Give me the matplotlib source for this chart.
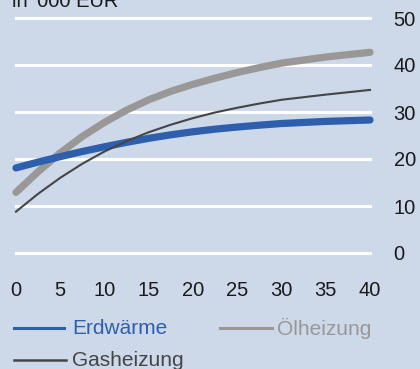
import matplotlib
matplotlib.use("Agg")
import matplotlib.pyplot as plt
from matplotlib.lines import Line2D

plt.rcParams['font.family'] = ['Liberation Sans', 'DejaVu Sans']

# values in '000 EUR
years = [0, 2.5, 5, 7.5, 10, 12.5, 15, 17.5, 20, 22.5, 25, 27.5, 30, 35, 40]
erdwaerme = [18.1, 19.35, 20.5, 21.6, 22.6, 23.55, 24.4, 25.15, 25.8, 26.35, 26.8, 27.2, 27.55, 28.0, 28.3]
oelheizung = [12.9, 17.3, 21.3, 24.8, 27.8, 30.4, 32.6, 34.4, 35.9, 37.2, 38.4, 39.45, 40.4, 41.7, 42.7]
gasheizung = [8.8, 12.6, 16.0, 19.0, 21.6, 23.8, 25.7, 27.3, 28.7, 29.9, 30.9, 31.8, 32.6, 33.7, 34.7]

x_ticks = [0, 5, 10, 15, 20, 25, 30, 35, 40]
y_ticks = [0, 10, 20, 30, 40, 50]

BG = '#CDD8E9'
BLUE = '#2E5FAC'
GREY = '#9A9897'
DARK = '#454545'

W, H = 420, 369
fig = plt.figure(figsize=(W / 100, H / 100), dpi=100, facecolor=BG)
ax = fig.add_axes([16 / W, (H - 253) / H, 354 / W, 235 / H])
ax.set_facecolor(BG)
ax.set_xlim(0, 40)
ax.set_ylim(0, 50)

for v in y_ticks:
    ax.axhline(v, color='white', lw=2.2, zorder=1, clip_on=False)

ax.plot(years, oelheizung, color=GREY, lw=5.2, solid_capstyle='round', zorder=3, clip_on=False)
ax.plot(years, erdwaerme, color=BLUE, lw=5.2, solid_capstyle='round', zorder=4, clip_on=False)
ax.plot(years, gasheizung, color=DARK, lw=1.5, zorder=5, clip_on=False)

for s in ax.spines.values():
    s.set_visible(False)
ax.tick_params(length=0, labelsize=14.5, colors='#1a1a1a')
ax.set_xticks(x_ticks)
ax.set_yticks(y_ticks)
ax.yaxis.tick_right()
ax.tick_params(axis='y', pad=17)
ax.tick_params(axis='x', pad=20)

fig.text(12 / W, 1 - 7 / H, "in '000 EUR", fontsize=14.5, color='#1a1a1a',
         ha='left', va='baseline')

# legend drawn by hand
def legend_item(x0, x1, xt, y, color, lw, label):
    yf = 1 - y / H
    fig.add_artist(Line2D([x0 / W, x1 / W], [yf, yf], color=color, lw=lw))
    fig.text(xt / W, yf, label, color=color, fontsize=15, ha='left', va='center')

legend_item(14, 64, 72, 328, BLUE, 2.2, 'Erdwärme')
legend_item(220, 272, 277, 328, GREY, 2.2, 'Ölheizung')
legend_item(14, 66, 72, 360, DARK, 1.8, 'Gasheizung')

fig.savefig('out.png', dpi=100, facecolor=BG)
